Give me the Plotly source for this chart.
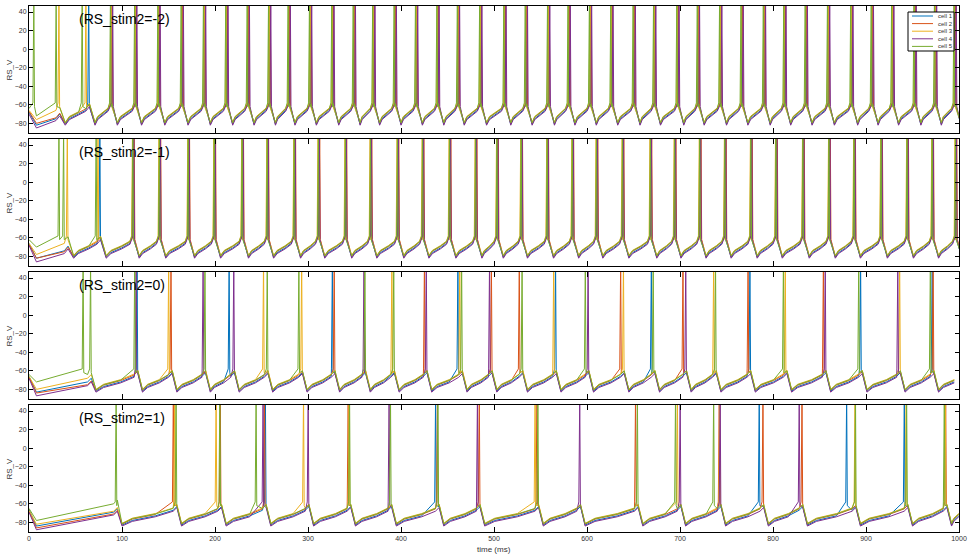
import plotly.graph_objects as go

# ---------------- data ----------------
CELL_NAMES = ["cell 1", "cell 2", "cell 3", "cell 4", "cell 5"]
PANEL_TITLES = ["(RS_stim2=-2)", "(RS_stim2=-1)", "(RS_stim2=0)", "(RS_stim2=1)"]
X_TICKS = [0, 100, 200, 300, 400, 500, 600, 700, 800, 900, 1000]
Y_TICKS = [-80, -60, -40, -20, 0, 20, 40]

# population (inhibition) event times per panel, ms
P1_DIPS = [32, 64, 88, 114, 139, 164, 188, 212, 235, 258, 279, 302, 326, 349, 370, 393,
           416, 439, 461, 485, 511, 534, 558, 580, 603, 626, 650, 672, 697, 719, 743, 766,
           790, 812, 835, 859, 884, 906, 928, 952, 974, 995]
P2_DIPS = [41, 76, 111.5, 140, 171, 199, 229, 256, 285, 311, 340, 367, 396, 423, 452, 480,
           503, 529, 557, 584, 610, 638, 668, 694, 721, 748, 776, 803, 832, 860, 887, 916,
           944, 971, 996]
P3_DIPS = [66, 116, 153, 189, 220, 256, 293, 328, 361, 392, 427, 465, 497, 530, 566, 601,
           639, 672, 706, 738, 775, 814, 856, 895, 936, 972]
P4_DIPS = [94, 158, 206, 254, 300, 345, 389, 440, 484, 547, 592, 654, 700, 743, 789, 831,
           888, 944, 986]

# panels 1-2: every cell fires on each regular cycle (from the 3rd event) with a small lag
P1_LAGS = [0.6, 1.2, 0.0, 1.8, -0.6]
P2_LAGS = [0.4, 1.4, -0.4, 1.0, 0.0]
P1_EARLY = [[64], [], [32, 61], [], [5, 29, 57]]
P2_EARLY = [[76], [], [41, 74], [], [32, 37, 72]]

# panels 3-4: spike times of each cell, ms
P3_C1 = [116, 215, 326, 461, 566, 669, 775, 894, 971]
P3_C2 = [152.5, 328, 425, 497, 527, 636, 703, 773, 854, 972]
P3_C3 = [150, 252, 293, 390, 463, 564, 639, 736, 813, 936]
P3_C4 = [115, 187, 220, 360, 427, 495, 601, 706, 856, 934]
P3_C5 = [58, 66, 113.5, 189, 256, 290, 361, 392, 465, 530, 598, 671, 738, 811, 892, 969]

P4_C1 = [254, 437, 785, 879, 941]
P4_C2 = [155, 205.5, 253, 343, 439, 484, 546, 652, 742, 789, 831, 985.5]
P4_C3 = [156.5, 201, 295, 344, 544, 697, 742.5, 888, 943, 985]
P4_C4 = [251.5, 300, 387, 482, 592, 700, 743, 828]
P4_C5 = [93.5, 158, 205, 244, 344.5, 388.5, 439.5, 547, 654, 695, 736, 888.5, 943.5, 984]

# membrane levels (mV): pre-event, event peak, trough, early ramp, late ramp
P1_LEVELS = [-65, -60, -80, -74, -69]
P2_LEVELS = [-65, -60, -80, -75, -70]
P3_LEVELS = [-65, -61, -81, -76, -71]
P4_LEVELS = [-66, -62, -82, -77, -72]
P_DELAY = [7, 7, 6, 6]

# start of each trace: value at t=0, initial dip, level before first event
P1_V0 = [-68, -67, -66, -70, -64]
P1_VDIP = [-82, -80, -76, -85, -72]
P1_PRE0 = [-75, -74, -66, -77, -68]
P2_V0 = [-66, -67, -66, -68, -62]
P2_VDIP = [-82, -82, -78, -86, -70]
P2_PRE0 = [-74, -75, -66, -77, -64]
P3_V0 = [-66, -67, -66, -68, -64]
P3_VDIP = [-83, -84, -80, -87, -72]
P3_PRE0 = [-72, -75, -68, -76, -64]
P4_V0 = [-66, -68, -67, -69, -65]
P4_VDIP = [-84, -86, -82, -88, -78]
P4_PRE0 = [-69, -71, -68, -72, -60]

CELL_OFFSET = [-1.0, 0.5, 1.5, -2.0, 1.0]
CELL_TROUGH = [-1.0, 0.0, 1.0, -2.0, 0.5]

# ---------------- style ----------------
COLORS = ["#0072BD", "#D95319", "#EDB120", "#7E2F8E", "#77AC30"]
FONT = "Liberation Sans, Arial, Helvetica, sans-serif"
W, H = 969, 559
ML, MR, MT, MB = 29, 10, 6, 27
PW, PH = W - ML - MR, H - MT - MB
PANEL_H, PANEL_GAP = 127, 6
T_DIP0 = 8


def px_x(px):
    return (px - ML) / PW


def px_y(py):
    return 1 - (py - MT) / PH


def baseline(dips, v0, vdip, pre0, lv, D, off, toff):
    pre_l, peak_l, trough_l, mid_l, late_l = lv
    pts = [(0.0, v0), (T_DIP0, vdip)]
    for k, E in enumerate(dips):
        pre = pre0 if k == 0 else pre_l + off
        pts.append((E - 3, pre))
        pts.append((E + 1, pre + (peak_l - pre_l)))
        tr = E + D
        pts.append((tr, trough_l + toff))
        nxt = dips[k + 1] - 3 if k + 1 < len(dips) else 1004
        if nxt - tr > 8:
            pts.append((tr + 0.2 * (nxt - tr), mid_l + off))
            pts.append((tr + 0.65 * (nxt - tr), late_l + off))
    return pts


def with_spikes(pts, spikes):
    for ts in spikes:
        pts = [p for p in pts if not (ts - 0.8 <= p[0] <= ts + 1.0)]
        pts += [(ts - 0.8, -58), (ts + 0.2, 58), (ts + 0.9, -62)]
    pts.sort(key=lambda p: p[0])
    return pts


panels = [
    dict(dips=P1_DIPS, lv=P1_LEVELS, v0=P1_V0, vdip=P1_VDIP, pre0=P1_PRE0,
         spikes=[sorted(P1_EARLY[c] + [e + P1_LAGS[c] for e in P1_DIPS[2:]]) for c in range(5)]),
    dict(dips=P2_DIPS, lv=P2_LEVELS, v0=P2_V0, vdip=P2_VDIP, pre0=P2_PRE0,
         spikes=[sorted(P2_EARLY[c] + [e + P2_LAGS[c] for e in P2_DIPS[2:]]) for c in range(5)]),
    dict(dips=P3_DIPS, lv=P3_LEVELS, v0=P3_V0, vdip=P3_VDIP, pre0=P3_PRE0,
         spikes=[P3_C1, P3_C2, P3_C3, P3_C4, P3_C5]),
    dict(dips=P4_DIPS, lv=P4_LEVELS, v0=P4_V0, vdip=P4_VDIP, pre0=P4_PRE0,
         spikes=[P4_C1, P4_C2, P4_C3, P4_C4, P4_C5]),
]

fig = go.Figure()
layout = dict(
    width=W, height=H, margin=dict(l=ML, r=MR, t=MT, b=MB, autoexpand=False),
    paper_bgcolor="white", plot_bgcolor="white", showlegend=False,
    font=dict(family=FONT, size=7, color="#333"),
)
annotations = []
shapes = []

for k, p in enumerate(panels):
    sfx = "" if k == 0 else str(k + 1)
    top = MT + k * (PANEL_H + PANEL_GAP)
    bot = top + PANEL_H
    for c in range(5):
        pts = baseline(p["dips"], p["v0"][c], p["vdip"][c], p["pre0"][c], p["lv"],
                       P_DELAY[k], CELL_OFFSET[c], CELL_TROUGH[c])
        pts = with_spikes(pts, p["spikes"][c])
        fig.add_trace(go.Scatter(
            x=[q[0] for q in pts], y=[q[1] for q in pts], mode="lines",
            name=CELL_NAMES[c], line=dict(color=COLORS[c], width=1),
            xaxis="x" + sfx, yaxis="y" + sfx, hoverinfo="skip", showlegend=False))
    layout["xaxis" + sfx] = dict(
        domain=[0, 1], range=[0, 1000], anchor="y" + sfx, tickvals=X_TICKS,
        ticks="inside", ticklen=5, tickcolor="black", tickwidth=1,
        showline=True, linecolor="black", linewidth=1, mirror="allticks",
        showgrid=False, zeroline=False, showticklabels=(k == 3), automargin=False,
        tickfont=dict(size=7, color="#333"))
    layout["yaxis" + sfx] = dict(
        domain=[px_y(bot), px_y(top)], range=[-90.4, 46.5], anchor="x" + sfx,
        tickvals=Y_TICKS, ticks="inside", ticklen=4, tickcolor="black", tickwidth=1,
        showline=True, linecolor="black", linewidth=1, mirror="allticks",
        showgrid=False, zeroline=False, automargin=False,
        tickfont=dict(size=7, color="#333"))
    annotations.append(dict(
        text=PANEL_TITLES[k], xref="paper", yref="paper", x=px_x(77), y=px_y(top + 13),
        xanchor="left", yanchor="middle", showarrow=False,
        font=dict(size=14, color="black", family=FONT)))
    annotations.append(dict(
        text="RS_V", xref="paper", yref="paper", x=px_x(9), y=px_y((top + bot) / 2),
        xanchor="center", yanchor="middle", textangle=-90, showarrow=False,
        font=dict(size=8, color="#333", family=FONT)))

annotations.append(dict(
    text="time (ms)", xref="paper", yref="paper", x=px_x(494), y=px_y(549),
    xanchor="center", yanchor="middle", showarrow=False,
    font=dict(size=8, color="#333", family=FONT)))

# legend box (top-right of first panel)
shapes.append(dict(type="rect", xref="paper", yref="paper", layer="above",
                   x0=px_x(908), x1=px_x(954), y0=px_y(51), y1=px_y(12),
                   line=dict(color="black", width=1), fillcolor="white"))
for c in range(5):
    yy = 16 + 7.6 * c
    shapes.append(dict(type="line", xref="paper", yref="paper", layer="above",
                       x0=px_x(912), x1=px_x(933), y0=px_y(yy), y1=px_y(yy),
                       line=dict(color=COLORS[c], width=1)))
    annotations.append(dict(
        text=CELL_NAMES[c], xref="paper", yref="paper", x=px_x(935.5), y=px_y(yy),
        xanchor="left", yanchor="middle", showarrow=False,
        font=dict(size=6, color="#333", family=FONT)))

layout["annotations"] = annotations
layout["shapes"] = shapes
fig.update_layout(**layout)
fig.write_html("out.html", config={"displayModeBar": False},
               post_script="document.body.style.margin='0';")
